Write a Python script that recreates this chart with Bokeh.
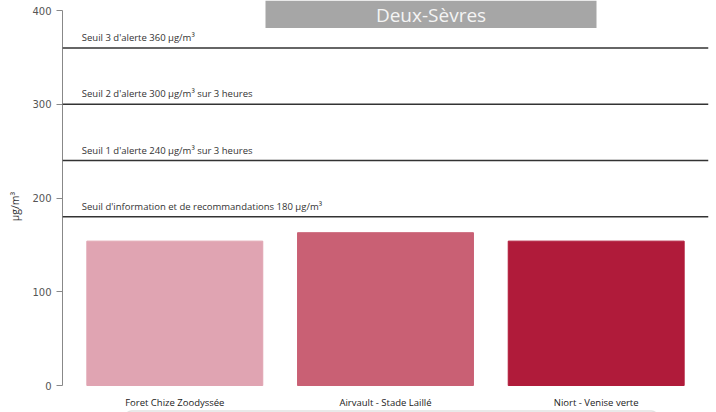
from bokeh.plotting import figure
from bokeh.models import FactorRange, Range1d, BoxAnnotation, Label, Span, ColumnDataSource, CategoricalAxis
from bokeh.core.properties import value
from bokeh.embed import file_html
from bokeh.resources import INLINE

# Ozone maxima per station (µg/m³)
stations = ["Foret Chize Zoodyssée", "Airvault - Stade Laillé", "Niort - Venise verte"]
maxima = [154, 163, 154]
bar_colors = ["#e0a4b2", "#c96074", "#b01b3a"]

# Regulatory thresholds and their captions
thresholds = [180, 240, 300, 360]
threshold_labels = [
    "Seuil d'information et de recommandations 180 µg/m³",
    "Seuil 1 d'alerte 240 µg/m³ sur 3 heures",
    "Seuil 2 d'alerte 300 µg/m³ sur 3 heures",
    "Seuil 3 d'alerte 360 µg/m³",
]
y_ticks = [0, 100, 200, 300, 400]
department = "Deux-Sèvres"

W, H = 716, 412
Y_MIN, Y_MAX = 0, 400
TOP_PAD, BOTTOM_PAD = 10, 27          # pixels above 400 and below 0
unit = (H - TOP_PAD - BOTTOM_PAD) / (Y_MAX - Y_MIN)

p = figure(
    width=W, height=H,
    x_range=FactorRange(factors=stations, range_padding=0.022),
    y_range=Range1d(Y_MIN - BOTTOM_PAD / unit, Y_MAX + TOP_PAD / unit),
    output_backend="svg", toolbar_location=None,
    min_border_left=62, min_border_right=8, min_border_top=0, min_border_bottom=0,
    x_axis_location=None,
)
p.outline_line_color = None
p.xgrid.visible = False
p.ygrid.visible = False

src = ColumnDataSource(dict(x=stations, top=maxima, color=bar_colors))
p.vbar(x="x", top="top", width=0.835, color="color", source=src)

for t in thresholds:
    p.add_layout(Span(location=t, dimension="width", line_color="#333333", line_width=1.4))

tsrc = ColumnDataSource(dict(x=[stations[0]] * len(thresholds), y=thresholds, text=threshold_labels))
p.text(x="x", y="y", text="text", source=tsrc, x_offset=-93, y_offset=-4,
       text_baseline="bottom", text_align="left", text_font=value("Open Sans"),
       text_font_size="9.5px", text_color="#333333")

# y axis
ya = p.yaxis[0]
ya.ticker = y_ticks
ya.bounds = (Y_MIN, Y_MAX)
ya.axis_label = "µg/m³"
ya.axis_label_text_font = "Open Sans"
ya.axis_label_text_font_style = "normal"
ya.axis_label_text_font_size = "10.5px"
ya.axis_label_text_color = "#333333"
ya.axis_label_standoff = 7
ya.axis_line_color = "#888888"
ya.major_tick_line_color = "#888888"
ya.major_tick_in = 0
ya.major_tick_out = 6
ya.minor_tick_line_color = None
ya.major_label_text_font = "DejaVu Sans"
ya.major_label_text_font_size = "10px"
ya.major_label_text_color = "#555555"
ya.major_label_standoff = 5

# category axis sitting on y = 0
xa = CategoricalAxis(fixed_location=0)
xa.axis_line_color = None
xa.major_tick_line_color = None
xa.major_tick_out = 0
xa.minor_tick_line_color = None
xa.major_label_text_font = "Open Sans"
xa.major_label_text_font_size = "9.5px"
xa.major_label_text_color = "#222222"
xa.major_label_standoff = 10
p.add_layout(xa, "below")

# department header
p.add_layout(BoxAnnotation(left=265, right=596, top=0, bottom=27.5,
                           left_units="canvas", right_units="canvas",
                           top_units="canvas", bottom_units="canvas",
                           fill_color="#a6a6a6", fill_alpha=1, line_color=None))
p.add_layout(Label(x=430.5, y=14, x_units="canvas", y_units="canvas", text=department,
                   text_align="center", text_baseline="middle", text_font="Open Sans",
                   text_font_size="19px", text_color="#f4f4f4"))

# lower panel edge
p.add_layout(BoxAnnotation(left=125, right=657, top=410.5, bottom=430,
                           left_units="canvas", right_units="canvas",
                           top_units="canvas", bottom_units="canvas",
                           fill_alpha=0, line_color="#a0a0a0", line_width=1.5,
                           border_radius=6))

open("out.html", "w").write(file_html(p, INLINE))
